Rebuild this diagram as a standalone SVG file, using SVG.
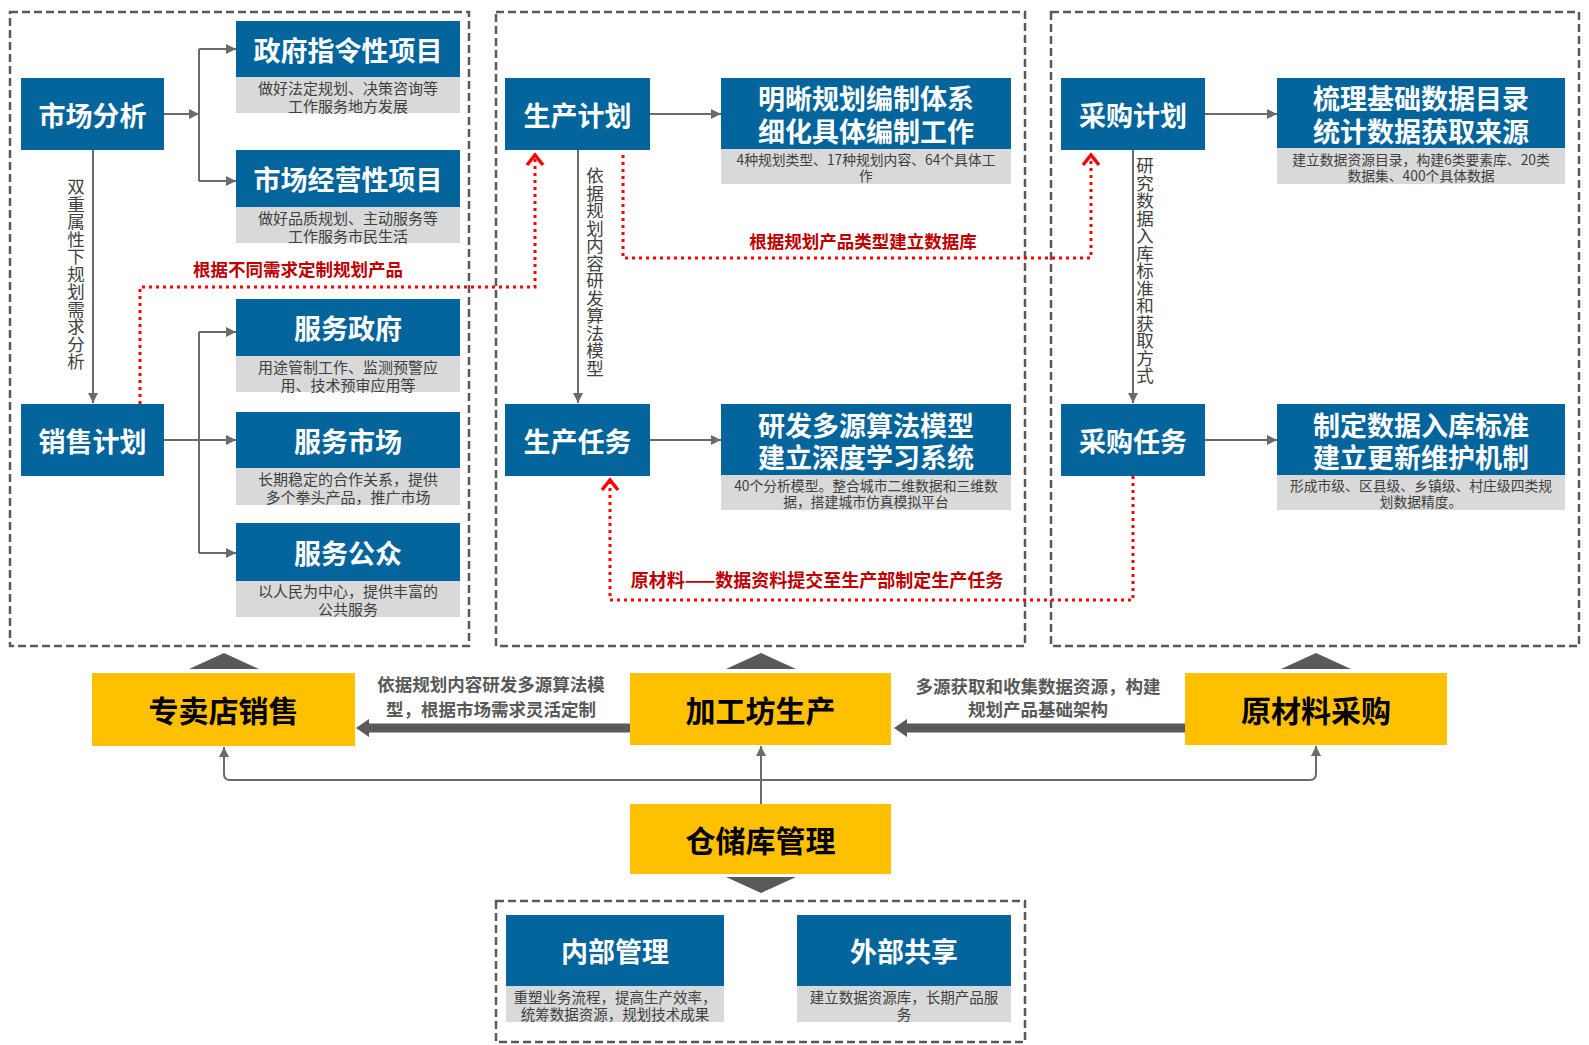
<svg xmlns="http://www.w3.org/2000/svg" width="1589" height="1045" viewBox="0 0 1589 1045">
<style>
text{font-family:"Noto Sans CJK SC","Noto Sans",sans-serif}
.bg{fill:#ffffff}
.frame{fill:none;stroke:#595959;stroke-width:2.5;stroke-dasharray:8 4}
.blue{fill:#04649C}
.gray{fill:#D9D9D9}
.yel{fill:#FFC000}
.tri{fill:#595959}
.tw{fill:#ffffff;font-weight:700;font-size:27px;text-anchor:middle;dominant-baseline:central}
.td{fill:#404040;font-size:15px;text-anchor:middle;dominant-baseline:central}
.ts{fill:#404040;font-size:13.8px;text-anchor:middle;dominant-baseline:central}
.tr{fill:#C00000;font-weight:700;font-size:17.5px;text-anchor:middle;dominant-baseline:central}
.tv{fill:#404040;font-size:17.5px;writing-mode:vertical-rl;text-anchor:start}
.tg{fill:#595959;font-weight:700;font-size:17.5px;text-anchor:middle;dominant-baseline:central}
.ty{fill:#000000;font-weight:700;font-size:30px;text-anchor:middle;dominant-baseline:central}
tspan{dominant-baseline:central}
.ln{fill:none;stroke:#6b6b6b;stroke-width:2}
.thick{fill:none;stroke:#595959;stroke-width:9}
.red{fill:none;stroke:#FF0000;stroke-width:3;stroke-dasharray:3 4}
</style>
<defs>
<marker id="arr" markerUnits="userSpaceOnUse" viewBox="-10 -5 10 10" markerWidth="10" markerHeight="10" refX="0" refY="0" orient="auto">
<path d="M-10,-5 L0,0 L-10,5 Z" fill="#6b6b6b"/>
</marker>
<marker id="thk" markerUnits="userSpaceOnUse" viewBox="-13 -9 13 18" markerWidth="13" markerHeight="18" refX="-10" refY="0" orient="auto">
<path d="M-13,-9 L0,0 L-13,9 Z" fill="#595959"/>
</marker>
<marker id="rarr" markerUnits="userSpaceOnUse" viewBox="-14 -11 16 22" markerWidth="16" markerHeight="22" refX="0" refY="0" orient="auto" overflow="visible">
<path d="M-11,-8 L-1,0 L-11,8" fill="none" stroke="#FF0000" stroke-width="3.5"/>
</marker>
</defs>
<rect class="bg" x="0" y="0" width="1589" height="1045"/>

<g id="frames">
<rect class="frame" x="10" y="12" width="459" height="634"/>
<rect class="frame" x="496" y="12" width="529" height="634"/>
<rect class="frame" x="1051" y="12" width="528" height="634"/>
<rect class="frame" x="496" y="901" width="529" height="141"/>
</g>

<g id="connectors">
<path class="ln" d="M164,114 H199" marker-end="url(#arr)"/>
<path class="ln" d="M199,49 V181"/>
<path class="ln" d="M199,49 H236" marker-end="url(#arr)"/>
<path class="ln" d="M199,181 H236" marker-end="url(#arr)"/>
<path class="ln" d="M93,150 V403" marker-end="url(#arr)"/>
<path class="ln" d="M164,440 H236" marker-end="url(#arr)"/>
<path class="ln" d="M199,332 V553"/>
<path class="ln" d="M199,332 H236" marker-end="url(#arr)"/>
<path class="ln" d="M199,553 H236" marker-end="url(#arr)"/>
<path class="ln" d="M650,114 H721" marker-end="url(#arr)"/>
<path class="ln" d="M578,150 V403" marker-end="url(#arr)"/>
<path class="ln" d="M650,440 H721" marker-end="url(#arr)"/>
<path class="ln" d="M1205,114 H1277" marker-end="url(#arr)"/>
<path class="ln" d="M1133,150 V403" marker-end="url(#arr)"/>
<path class="ln" d="M1205,440 H1277" marker-end="url(#arr)"/>
<path class="red" d="M140,404 V287 H535 V154" marker-end="url(#rarr)"/>
<path class="red" d="M623,155 V258 H1091 V154" marker-end="url(#rarr)"/>
<path class="red" d="M1133,476 V600 H610 V479" marker-end="url(#rarr)"/>
<path class="thick" d="M630,728 H366" marker-end="url(#thk)"/>
<path class="thick" d="M1185,728 H904" marker-end="url(#thk)"/>
<path class="ln" d="M761,780 H230 Q224,780 224,774 V747" marker-end="url(#arr)"/>
<path class="ln" d="M761,780 H1310 Q1316,780 1316,774 V746" marker-end="url(#arr)"/>
<path class="ln" d="M761,804 V746" marker-end="url(#arr)"/>
<path class="tri" d="M189,669 L224,653 L259,669 Z"/>
<path class="tri" d="M726,669 L761,653 L796,669 Z"/>
<path class="tri" d="M1281,669 L1316,653 L1351,669 Z"/>
<path class="tri" d="M726,877 L796,877 L761,893 Z"/>
</g>

<g id="labels">
<text class="tv" x="76" y="178">双重属性下规划需求分析</text>
<text class="tv" x="595" y="167">依据规划内容研发算法模型</text>
<text class="tv" x="1145" y="157">研究数据入库标准和获取方式</text>
<text class="tr" x="298" y="268">根据不同需求定制规划产品</text>
<text class="tr" x="863" y="240">根据规划产品类型建立数据库</text>
<text class="tr" x="817" y="579" style="font-size:18px">原材料——数据资料提交至生产部制定生产任务</text>
<text class="tg"><tspan x="491" y="683">依据规划内容研发多源算法模</tspan><tspan x="491" y="708">型，根据市场需求灵活定制</tspan></text>
<text class="tg"><tspan x="1038" y="685">多源获取和收集数据资源，构建</tspan><tspan x="1038" y="708">规划产品基础架构</tspan></text>
</g>

<g id="n-market-analysis">
<rect class="blue" x="21" y="78" width="143" height="72"/>
<text class="tw" x="92.5" y="114">市场分析</text>
</g>
<g id="n-sales-plan">
<rect class="blue" x="21" y="404" width="143" height="72"/>
<text class="tw" x="92.5" y="440">销售计划</text>
</g>
<g id="n-gov-project">
<rect class="blue" x="236" y="21" width="224" height="56"/>
<rect class="gray" x="236" y="77" width="224" height="36"/>
<text class="tw" x="348" y="49">政府指令性项目</text>
<text class="td"><tspan x="348" y="87">做好法定规划、决策咨询等</tspan><tspan x="348" y="105">工作服务地方发展</tspan></text>
</g>
<g id="n-market-project">
<rect class="blue" x="236" y="150" width="224" height="57"/>
<rect class="gray" x="236" y="207" width="224" height="36"/>
<text class="tw" x="348" y="178">市场经营性项目</text>
<text class="td"><tspan x="348" y="217">做好品质规划、主动服务等</tspan><tspan x="348" y="235">工作服务市民生活</tspan></text>
</g>
<g id="n-serve-gov">
<rect class="blue" x="236" y="299" width="224" height="57"/>
<rect class="gray" x="236" y="356" width="224" height="36"/>
<text class="tw" x="348" y="327">服务政府</text>
<text class="td"><tspan x="348" y="366">用途管制工作、监测预警应</tspan><tspan x="348" y="384">用、技术预审应用等</tspan></text>
</g>
<g id="n-serve-market">
<rect class="blue" x="236" y="412" width="224" height="56"/>
<rect class="gray" x="236" y="468" width="224" height="37"/>
<text class="tw" x="348" y="440">服务市场</text>
<text class="td"><tspan x="348" y="478">长期稳定的合作关系，提供</tspan><tspan x="348" y="496">多个拳头产品，推广市场</tspan></text>
</g>
<g id="n-serve-public">
<rect class="blue" x="236" y="523" width="224" height="58"/>
<rect class="gray" x="236" y="581" width="224" height="36"/>
<text class="tw" x="348" y="552">服务公众</text>
<text class="td"><tspan x="348" y="590">以人民为中心，提供丰富的</tspan><tspan x="348" y="608">公共服务</tspan></text>
</g>

<g id="n-prod-plan">
<rect class="blue" x="505" y="78" width="145" height="72"/>
<text class="tw" x="577.5" y="114">生产计划</text>
</g>
<g id="n-prod-task">
<rect class="blue" x="505" y="404" width="145" height="72"/>
<text class="tw" x="577.5" y="440">生产任务</text>
</g>
<g id="n-plan-system">
<rect class="blue" x="721" y="78" width="290" height="71"/>
<rect class="gray" x="721" y="149" width="290" height="35"/>
<text class="tw"><tspan x="866" y="97">明晰规划编制体系</tspan><tspan x="866" y="130">细化具体编制工作</tspan></text>
<text class="ts"><tspan x="866" y="159">4种规划类型、17种规划内容、64个具体工</tspan><tspan x="866" y="175">作</tspan></text>
</g>
<g id="n-algo">
<rect class="blue" x="721" y="404" width="290" height="71"/>
<rect class="gray" x="721" y="475" width="290" height="35"/>
<text class="tw"><tspan x="866" y="424">研发多源算法模型</tspan><tspan x="866" y="456">建立深度学习系统</tspan></text>
<text class="ts"><tspan x="866" y="485">40个分析模型。整合城市二维数据和三维数</tspan><tspan x="866" y="501">据，搭建城市仿真模拟平台</tspan></text>
</g>

<g id="n-purchase-plan">
<rect class="blue" x="1061" y="78" width="144" height="72"/>
<text class="tw" x="1133" y="114">采购计划</text>
</g>
<g id="n-purchase-task">
<rect class="blue" x="1061" y="404" width="144" height="72"/>
<text class="tw" x="1133" y="440">采购任务</text>
</g>
<g id="n-data-catalog">
<rect class="blue" x="1277" y="78" width="288" height="70"/>
<rect class="gray" x="1277" y="148" width="288" height="36"/>
<text class="tw"><tspan x="1421" y="97">梳理基础数据目录</tspan><tspan x="1421" y="130">统计数据获取来源</tspan></text>
<text class="ts"><tspan x="1421" y="159">建立数据资源目录，构建6类要素库、20类</tspan><tspan x="1421" y="175">数据集、400个具体数据</tspan></text>
</g>
<g id="n-data-standard">
<rect class="blue" x="1277" y="404" width="288" height="71"/>
<rect class="gray" x="1277" y="475" width="288" height="35"/>
<text class="tw"><tspan x="1421" y="424">制定数据入库标准</tspan><tspan x="1421" y="456">建立更新维护机制</tspan></text>
<text class="ts"><tspan x="1421" y="485">形成市级、区县级、乡镇级、村庄级四类规</tspan><tspan x="1421" y="501">划数据精度。</tspan></text>
</g>

<g id="n-store-sales">
<rect class="yel" x="92" y="673" width="263" height="73"/>
<text class="ty" x="223.5" y="709">专卖店销售</text>
</g>
<g id="n-workshop">
<rect class="yel" x="630" y="673" width="261" height="72"/>
<text class="ty" x="760.5" y="709">加工坊生产</text>
</g>
<g id="n-raw-purchase">
<rect class="yel" x="1185" y="673" width="262" height="72"/>
<text class="ty" x="1316" y="709">原材料采购</text>
</g>
<g id="n-warehouse">
<rect class="yel" x="630" y="804" width="261" height="70"/>
<text class="ty" x="760.5" y="839">仓储库管理</text>
</g>
<g id="n-internal">
<rect class="blue" x="506" y="915" width="218" height="71"/>
<rect class="gray" x="506" y="986" width="218" height="36"/>
<text class="tw" x="615" y="950">内部管理</text>
<text class="td" style="font-size:14.5px"><tspan x="615" y="996">重塑业务流程，提高生产效率，</tspan><tspan x="615" y="1013">统筹数据资源，规划技术成果</tspan></text>
</g>
<g id="n-external">
<rect class="blue" x="797" y="915" width="214" height="71"/>
<rect class="gray" x="797" y="986" width="214" height="36"/>
<text class="tw" x="904" y="950">外部共享</text>
<text class="td" style="font-size:14.5px"><tspan x="904" y="996">建立数据资源库，长期产品服</tspan><tspan x="904" y="1013">务</tspan></text>
</g>
</svg>
